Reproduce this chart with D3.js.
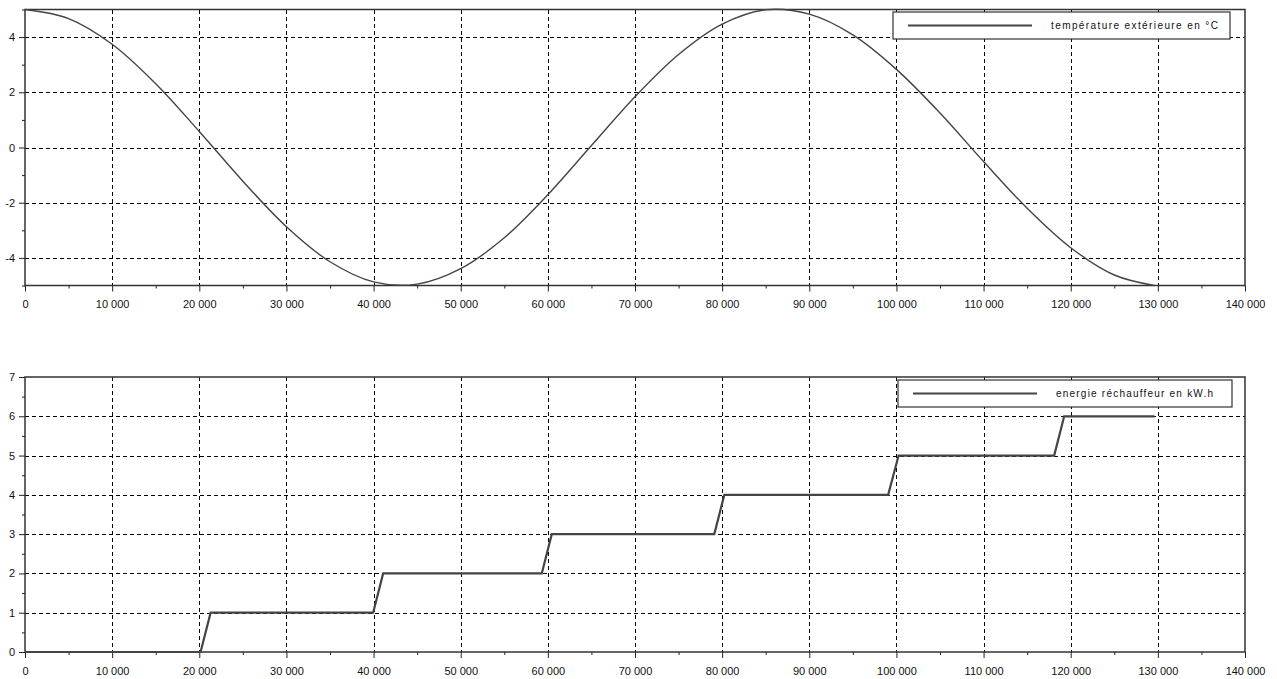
<!DOCTYPE html>
<html>
<head>
    <meta charset="utf-8">
    <title>Température et énergie</title>
    <script src="https://cdn.jsdelivr.net/npm/d3@7/dist/d3.min.js"></script>
</head>
<style>
    body {
        margin: 0px;
        background-color: white;
        overflow: hidden;
    }

    text {
        font-family: "Liberation Sans", Arial, sans-serif;
        fill: #111;
    }

    .grid line {
        stroke: black;
        stroke-width: 1px;
        stroke-dasharray: 4, 3;
        shape-rendering: crispEdges;
    }

    .frame {
        fill: none;
        stroke: #333;
        stroke-width: 1.5px;
    }

    .tick line {
        stroke: #222;
    }
</style>
<body>
    <svg id="svg"></svg>

    <script>
        // temps en secondes
        var tempTimes = [0, 5000, 10000, 15000, 20000, 25000, 30000, 35000, 40000, 45000,
            50000, 55000, 60000, 65000, 70000, 75000, 80000, 85000, 90000, 95000,
            100000, 105000, 110000, 115000, 120000, 125000, 129600]
        // température extérieure en °C
        var tempValues = [5.00, 4.67, 3.74, 2.31, 0.58, -1.22, -2.87, -4.14, -4.87, -4.95,
            -4.39, -3.27, -1.71, 0.07, 1.84, 3.37, 4.47, 4.99, 4.83, 4.08,
            2.83, 1.25, -0.51, -2.20, -3.63, -4.62, -5.00]

        // énergie réchauffeur en kW.h
        var energyTimes = [0, 20150, 21300, 39950, 41100, 59300, 60450, 79100, 80250,
            99050, 100250, 118100, 119250, 129600]
        var energyValues = [0, 0, 1, 1, 2, 2, 3, 3, 4, 4, 5, 5, 6, 6]

        var xTicks = [0, 10000, 20000, 30000, 40000, 50000, 60000, 70000, 80000, 90000,
            100000, 110000, 120000, 130000, 140000]
        var tempTicks = [-4, -2, 0, 2, 4]
        var energyTicks = [0, 1, 2, 3, 4, 5, 6, 7]

        var width = 1277
        var height = 679

        var svg = d3.select("svg")
            .attr("width", width)
            .attr("height", height)

        var locale = d3.formatLocale({ decimal: ".", thousands: " ", grouping: [3], currency: ["", ""], minus: "-" })
        var fmt = locale.format(",")
        var yFmt = locale.format("d")

        var x = d3.scaleLinear().domain([0, 140000]).range([25, 1245])

        function drawPlot(top, bottom, yDomain, yTicks, yMinor, times, values, curve, lineWidth, label, legendBox) {
            var y = d3.scaleLinear().domain(yDomain).range([bottom, top])
            var g = svg.append("g")

            // grid
            var grid = g.append("g").attr("class", "grid")
            grid.selectAll(".vx")
                .data(xTicks.filter(d => d > 0 && d < 140000))
                .join("line")
                .attr("x1", d => Math.round(x(d)) + 0.5)
                .attr("x2", d => Math.round(x(d)) + 0.5)
                .attr("y1", top)
                .attr("y2", bottom)
            grid.selectAll(".hy")
                .data(yTicks.filter(d => d > yDomain[0] && d < yDomain[1]))
                .join("line")
                .attr("x1", x(0))
                .attr("x2", x(140000))
                .attr("y1", d => Math.round(y(d)) + 0.5)
                .attr("y2", d => Math.round(y(d)) + 0.5)

            // axes
            var xAxis = g.append("g")
                .attr("transform", "translate(0," + bottom + ")")
                .call(d3.axisBottom(x).tickValues(xTicks).tickFormat(fmt).tickSize(6).tickPadding(9))
            xAxis.select(".domain").remove()
            xAxis.selectAll("text").style("font-size", "11px")

            var xMinor = g.append("g")
                .attr("transform", "translate(0," + bottom + ")")
                .call(d3.axisBottom(x).tickValues(d3.range(5000, 140000, 10000)).tickFormat("").tickSize(3))
            xMinor.select(".domain").remove()

            var yAxis = g.append("g")
                .attr("transform", "translate(" + x(0) + ",0)")
                .call(d3.axisLeft(y).tickValues(yTicks).tickFormat(yFmt).tickSize(6).tickPadding(4))
            yAxis.select(".domain").remove()
            yAxis.selectAll("text").style("font-size", "11px")

            var yMin = g.append("g")
                .attr("transform", "translate(" + x(0) + ",0)")
                .call(d3.axisLeft(y).tickValues(yMinor).tickFormat("").tickSize(3))
            yMin.select(".domain").remove()

            // frame
            g.append("rect")
                .attr("class", "frame")
                .attr("x", x(0))
                .attr("y", top)
                .attr("width", x(140000) - x(0))
                .attr("height", bottom - top)

            // series
            var pts = times.map((t, i) => [t, values[i]])
            g.append("path")
                .datum(pts)
                .attr("fill", "none")
                .attr("stroke", "#444")
                .attr("stroke-width", lineWidth)
                .attr("d", d3.line().x(d => x(d[0])).y(d => y(d[1])).curve(curve))

            // legend
            var lg = g.append("g")
            lg.append("rect")
                .attr("x", legendBox[0])
                .attr("y", legendBox[1])
                .attr("width", legendBox[2])
                .attr("height", legendBox[3])
                .attr("fill", "white")
                .attr("stroke", "#333")
                .attr("stroke-width", 1.2)
            var ly = legendBox[1] + legendBox[3] / 2
            lg.append("line")
                .attr("x1", legendBox[0] + 15)
                .attr("x2", legendBox[0] + 139)
                .attr("y1", ly)
                .attr("y2", ly)
                .attr("stroke", "#444")
                .attr("stroke-width", 2)
            lg.append("text")
                .attr("x", legendBox[0] + 158)
                .attr("y", ly + 3.5)
                .style("font-size", "10px")
                .attr("textLength", legendBox[4])
                .text(label)
        }

        drawPlot(9.5, 285.5, [-5, 5], tempTicks, [-5, -3, -1, 1, 3, 5],
            tempTimes, tempValues, d3.curveCatmullRom, 1.4,
            "température extérieure en °C", [893, 12, 337, 27, 167])

        drawPlot(377, 652, [0, 7], energyTicks, d3.range(0.5, 7, 1),
            energyTimes, energyValues, d3.curveLinear, 2.2,
            "energie réchauffeur en kW.h", [898, 380, 334, 27, 157])
    </script>
</body>
</html>
